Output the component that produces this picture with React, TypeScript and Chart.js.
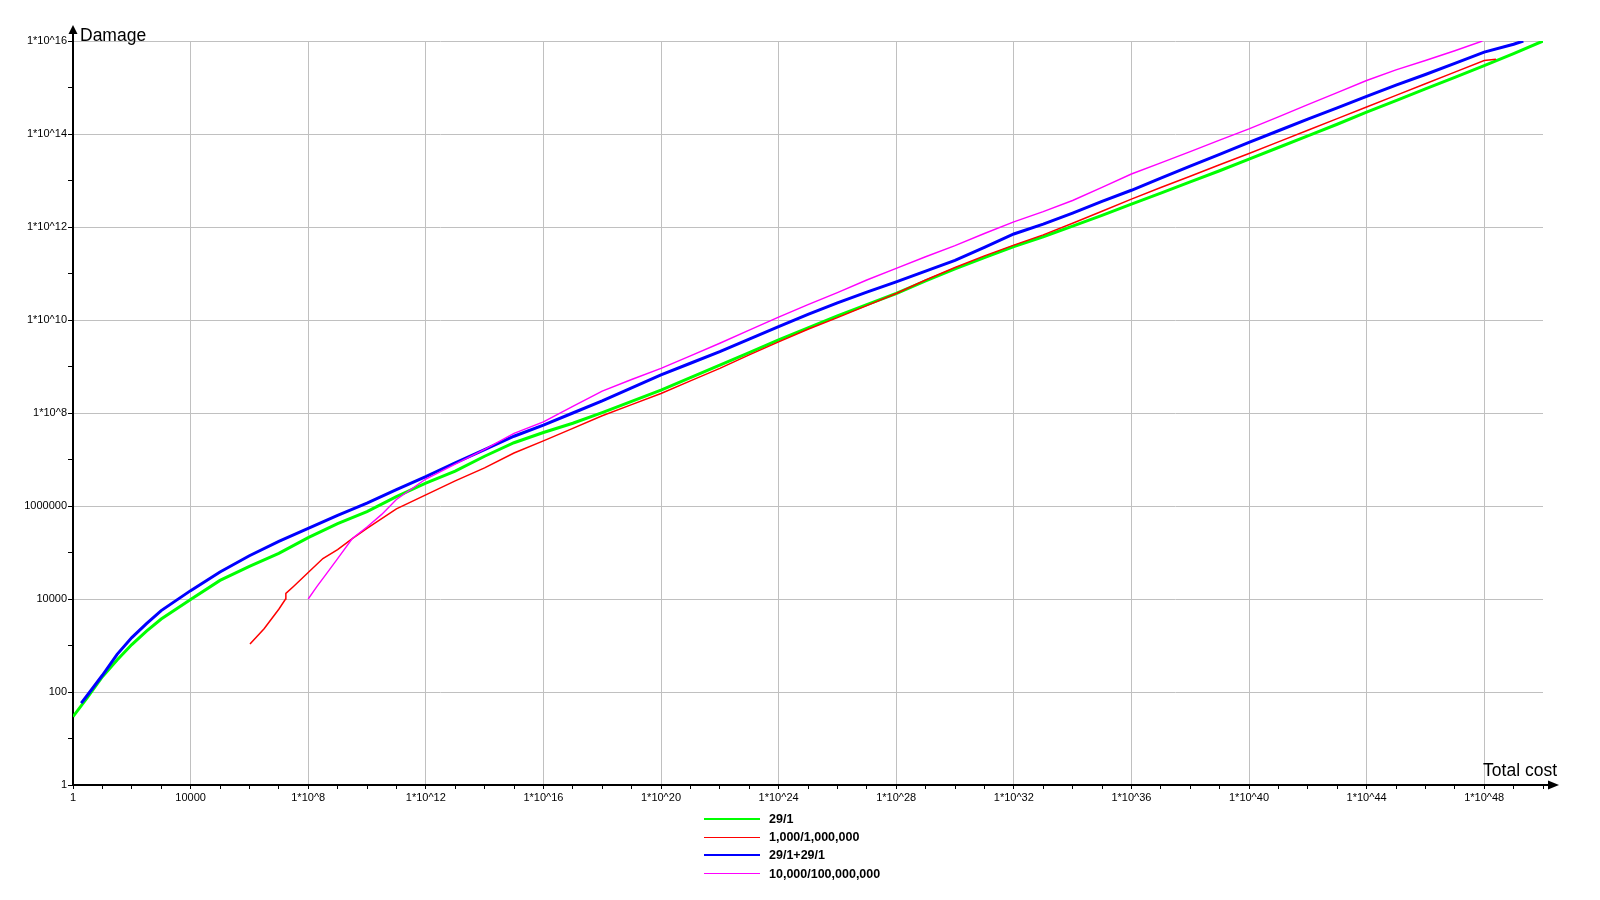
import React, { useEffect, useRef } from 'react';
import { Chart, registerables } from 'chart.js';

Chart.register(...registerables);

// ---- Data (exponents of ten) ----
const seriesLabels = ['29/1', '1,000/1,000,000', '29/1+29/1', '10,000/100,000,000'];
const seriesColors = ['#00ff00', '#ff0000', '#0000ff', '#ff00ff'];
const seriesWidths = [3, 1.5, 3, 1.4];

// 29/1 (green)
const greenCostExp = [0, 0.5, 1, 1.5, 2, 2.5, 3, 4, 5, 6, 7, 8, 9, 10, 11, 12, 13, 14, 15, 16, 17, 18, 19, 20, 21, 22, 23, 24, 25, 26, 27, 28, 29, 30, 31, 32, 33, 34, 35, 36, 37, 38, 39, 40, 41, 42, 43, 44, 45, 46, 47, 48, 49, 50];
const greenDamageExp = [1.47, 1.89, 2.33, 2.69, 3.02, 3.31, 3.57, 3.99, 4.40, 4.70, 4.98, 5.32, 5.62, 5.88, 6.20, 6.49, 6.75, 7.07, 7.36, 7.58, 7.78, 8.01, 8.25, 8.49, 8.76, 9.03, 9.30, 9.57, 9.83, 10.09, 10.33, 10.57, 10.84, 11.10, 11.34, 11.58, 11.79, 12.02, 12.25, 12.49, 12.73, 12.97, 13.21, 13.46, 13.71, 13.96, 14.21, 14.47, 14.72, 14.97, 15.22, 15.47, 15.73, 16.0];

// 1,000/1,000,000 (red)
const redCostExp = [6.02, 6.5, 7, 7.23, 7.24, 7.5, 8, 8.5, 9, 9.5, 10, 11, 12, 13, 14, 15, 16, 17, 18, 19, 20, 21, 22, 23, 24, 25, 26, 27, 28, 29, 30, 31, 32, 33, 34, 35, 36, 37, 38, 39, 40, 41, 42, 43, 44, 45, 46, 47, 48, 48.4];
const redDamageExp = [3.03, 3.36, 3.78, 4.0, 4.12, 4.27, 4.57, 4.87, 5.06, 5.30, 5.52, 5.94, 6.24, 6.54, 6.82, 7.14, 7.40, 7.67, 7.94, 8.18, 8.42, 8.69, 8.96, 9.25, 9.53, 9.80, 10.05, 10.31, 10.57, 10.86, 11.13, 11.38, 11.61, 11.83, 12.08, 12.34, 12.60, 12.85, 13.09, 13.34, 13.58, 13.83, 14.08, 14.33, 14.58, 14.83, 15.08, 15.33, 15.58, 15.61];

// 29/1+29/1 (blue)
const blueCostExp = [0.28, 0.5, 1, 1.5, 2, 2.5, 3, 4, 5, 6, 7, 8, 9, 10, 11, 12, 13, 14, 15, 16, 17, 18, 19, 20, 21, 22, 23, 24, 25, 26, 27, 28, 29, 30, 31, 32, 33, 34, 35, 36, 37, 38, 39, 40, 41, 42, 43, 44, 45, 46, 47, 48, 49, 49.33];
const blueDamageExp = [1.76, 1.94, 2.36, 2.81, 3.17, 3.47, 3.75, 4.18, 4.58, 4.93, 5.24, 5.52, 5.80, 6.06, 6.35, 6.63, 6.93, 7.21, 7.50, 7.74, 8.00, 8.26, 8.54, 8.82, 9.07, 9.32, 9.59, 9.86, 10.12, 10.37, 10.60, 10.82, 11.05, 11.28, 11.56, 11.85, 12.06, 12.30, 12.55, 12.79, 13.05, 13.31, 13.56, 13.82, 14.07, 14.32, 14.56, 14.81, 15.05, 15.28, 15.52, 15.76, 15.93, 16.0];

// 10,000/100,000,000 (magenta)
const pinkCostExp = [8, 8.3, 8.63, 8.97, 9.5, 10, 10.5, 11, 12, 13, 14, 15, 16, 17, 18, 19, 20, 21, 22, 23, 24, 25, 26, 27, 28, 29, 30, 31, 32, 33, 34, 35, 36, 37, 38, 39, 40, 41, 42, 43, 44, 45, 46, 47, 47.94];
const pinkDamageExp = [4.0, 4.27, 4.55, 4.84, 5.30, 5.55, 5.82, 6.14, 6.58, 6.90, 7.22, 7.56, 7.81, 8.14, 8.47, 8.72, 8.96, 9.23, 9.50, 9.78, 10.06, 10.33, 10.59, 10.86, 11.11, 11.36, 11.60, 11.86, 12.11, 12.33, 12.57, 12.85, 13.14, 13.38, 13.62, 13.87, 14.11, 14.37, 14.63, 14.89, 15.15, 15.38, 15.58, 15.79, 16.0];

// Axis ticks (decades)
const xTickExps = Array.from({ length: 51 }, (_, i) => i);
const yTickExps = Array.from({ length: 17 }, (_, i) => i);
const xAxisTitle = 'Total cost';
const yAxisTitle = 'Damage';

const FONT = '"Liberation Sans", Arial, sans-serif';

function expOf(v: number) {
  return Math.round(Math.log10(v));
}
function decadeLabel(e: number) {
  if (e === 0) return '1';
  if (e <= 6) return String(Math.pow(10, e));
  return '1*10^' + e;
}

function toPoints(cx: number[], dy: number[]) {
  return cx.map((c, i) => ({ x: Math.pow(10, c), y: Math.pow(10, dy[i]) }));
}

const decorPlugin = {
  id: 'decor',
  beforeDatasetsDraw(chart: any) {
    const ctx = chart.ctx;
    const { left, bottom } = chart.chartArea;
    ctx.save();
    ctx.strokeStyle = '#000';
    ctx.fillStyle = '#000';
    ctx.lineWidth = 2;
    ctx.beginPath();
    ctx.moveTo(left, bottom + 1);
    ctx.lineTo(left, 30);
    ctx.stroke();
    ctx.beginPath();
    ctx.moveTo(left - 1, bottom);
    ctx.lineTo(1550, bottom);
    ctx.stroke();
    ctx.beginPath();
    ctx.moveTo(left, 25);
    ctx.lineTo(left - 4.5, 34);
    ctx.lineTo(left + 4.5, 34);
    ctx.closePath();
    ctx.fill();
    ctx.beginPath();
    ctx.moveTo(1559, bottom);
    ctx.lineTo(1548, bottom - 4.5);
    ctx.lineTo(1548, bottom + 4.5);
    ctx.closePath();
    ctx.fill();
    ctx.restore();
  },
  afterDraw(chart: any) {
    const ctx = chart.ctx;
    ctx.save();
    ctx.fillStyle = '#000';
    ctx.font = '17.5px ' + FONT;
    ctx.textBaseline = 'alphabetic';
    ctx.textAlign = 'left';
    ctx.fillText(yAxisTitle, 80, 41);
    ctx.textAlign = 'right';
    ctx.fillText(xAxisTitle, 1557, 776);
    // legend
    const rowsY = [818.5, 836.8, 855, 873.3];
    ctx.textAlign = 'left';
    ctx.textBaseline = 'middle';
    ctx.font = 'bold 12.5px ' + FONT;
    seriesLabels.forEach((lab, i) => {
      const y = rowsY[i];
      ctx.strokeStyle = seriesColors[i];
      ctx.lineWidth = seriesWidths[i] >= 2 ? 2 : 1;
      ctx.beginPath();
      ctx.moveTo(704, Math.round(y) + (ctx.lineWidth === 1 ? 0.5 : 0));
      ctx.lineTo(760, Math.round(y) + (ctx.lineWidth === 1 ? 0.5 : 0));
      ctx.stroke();
      ctx.fillStyle = '#000';
      ctx.fillText(lab, 769, y + 1);
    });
    ctx.restore();
  },
};

export default function App() {
  const ref = useRef<HTMLCanvasElement>(null);
  useEffect(() => {
    const datasets = [
      toPoints(greenCostExp, greenDamageExp),
      toPoints(redCostExp, redDamageExp),
      toPoints(blueCostExp, blueDamageExp),
      toPoints(pinkCostExp, pinkDamageExp),
    ].map((data, i) => ({
      label: seriesLabels[i],
      data,
      borderColor: seriesColors[i],
      backgroundColor: seriesColors[i],
      borderWidth: seriesWidths[i],
      pointRadius: 0,
      tension: 0,
      fill: false,
      order: 4 - i,
    }));

    const chart = new Chart(ref.current as HTMLCanvasElement, {
      type: 'line',
      data: { datasets },
      options: {
        responsive: false,
        animation: false,
        events: [],
        layout: { padding: { top: 41, right: 57, bottom: 0, left: 0 } },
        plugins: { legend: { display: false }, tooltip: { enabled: false }, title: { display: false } },
        scales: {
          x: {
            type: 'logarithmic',
            position: 'bottom',
            min: 1,
            max: 1e50,
            afterBuildTicks: (s: any) => {
              s.ticks = xTickExps.map((e) => ({ value: Math.pow(10, e) }));
            },
            afterFit: (s: any) => {
              s.height = 115;
            },
            border: { display: false },
            grid: {
              color: (c: any) => {
                const e = expOf(c.tick.value);
                return e > 0 && e % 4 === 0 ? '#c0c0c0' : 'rgba(0,0,0,0)';
              },
              lineWidth: 1,
              drawTicks: true,
              tickLength: 4,
              tickColor: '#000',
              tickWidth: 1,
            },
            ticks: {
              autoSkip: false,
              maxRotation: 0,
              minRotation: 0,
              padding: 2,
              color: '#000',
              font: { family: FONT, size: 11 },
              callback: (v: any) => {
                const e = expOf(Number(v));
                return e % 4 === 0 ? decadeLabel(e) : '';
              },
            },
          },
          y: {
            type: 'logarithmic',
            position: 'left',
            min: 1,
            max: 1e16,
            afterBuildTicks: (s: any) => {
              s.ticks = yTickExps.map((e) => ({ value: Math.pow(10, e) }));
            },
            afterFit: (s: any) => {
              s.width = 73;
            },
            border: { display: false },
            grid: {
              color: (c: any) => {
                const e = expOf(c.tick.value);
                return e > 0 && e % 2 === 0 ? '#c0c0c0' : 'rgba(0,0,0,0)';
              },
              lineWidth: 1,
              drawTicks: true,
              tickLength: 5,
              tickColor: '#000',
              tickWidth: 1,
            },
            ticks: {
              autoSkip: false,
              padding: 1,
              color: '#000',
              font: { family: FONT, size: 11 },
              callback: (v: any) => {
                const e = expOf(Number(v));
                return e % 2 === 0 ? decadeLabel(e) : '';
              },
            },
          },
        },
      } as any,
      plugins: [decorPlugin],
    });
    return () => chart.destroy();
  }, []);

  return (
    <div style={{ position: 'absolute', left: 0, top: 0, width: 1600, height: 900, background: '#fff' }}>
      <canvas ref={ref} width={1600} height={900} style={{ width: 1600, height: 900, display: 'block' }} />
    </div>
  );
}
